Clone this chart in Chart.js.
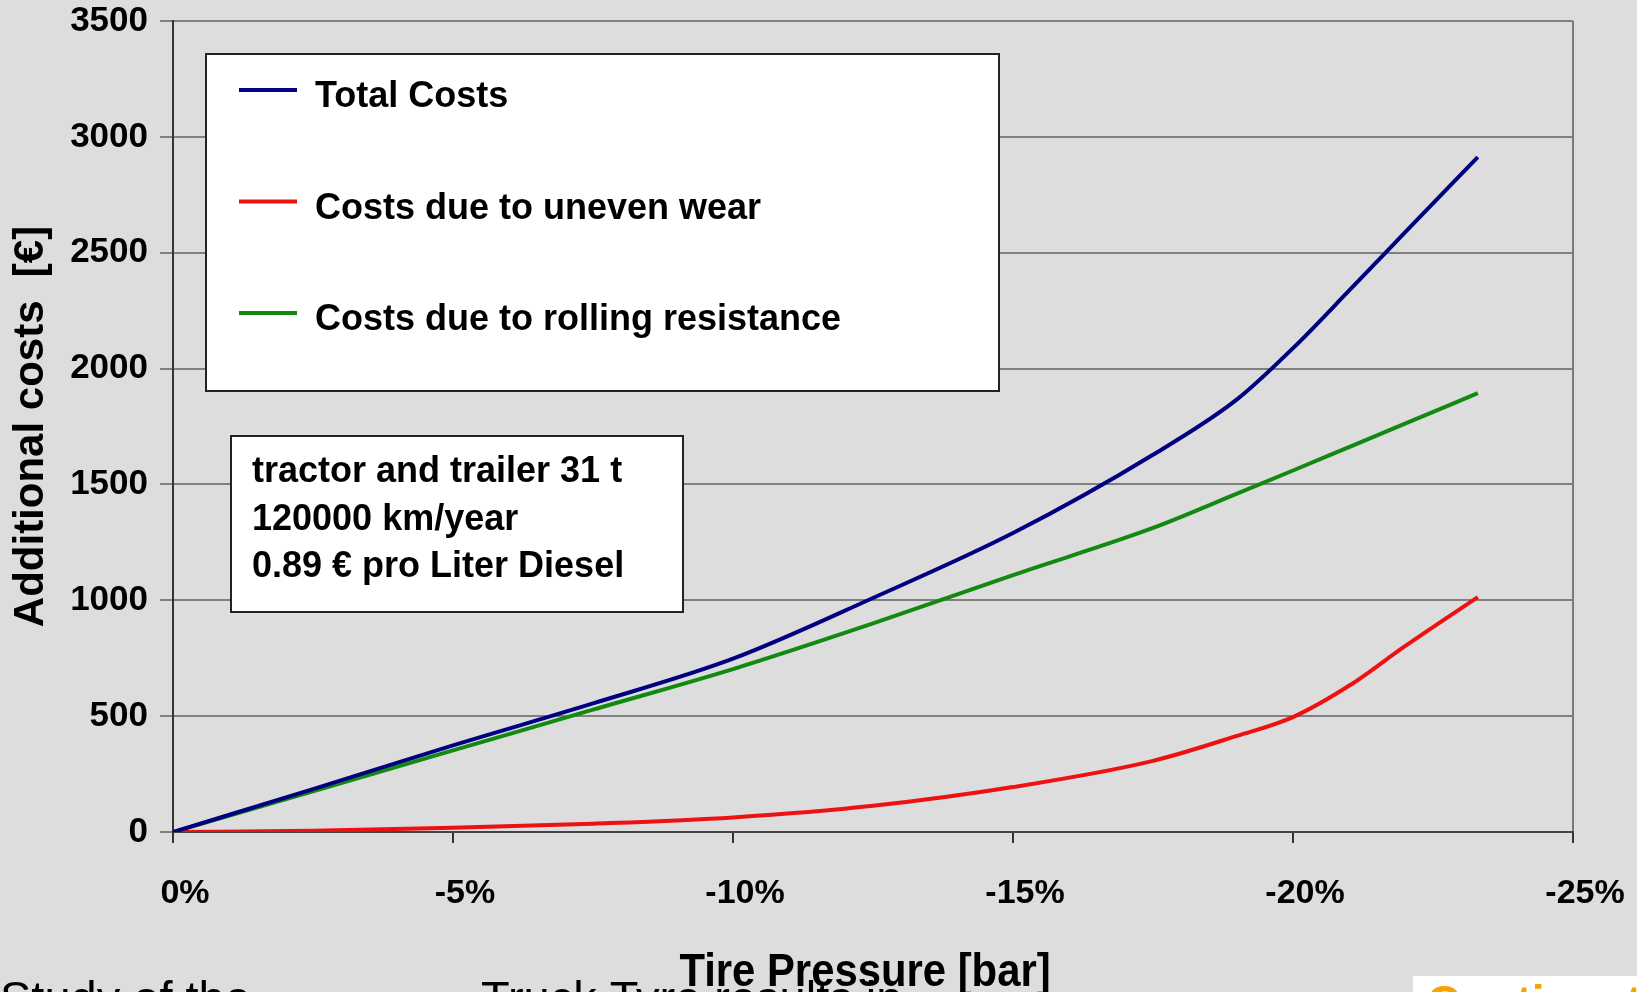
<!DOCTYPE html>
<html>
<head>
<meta charset="utf-8">
<script src="https://cdn.jsdelivr.net/npm/chart.js@4"></script>
<style>
  html, body { margin: 0; padding: 0; background: #dddddd; }
  #wrap { width: 1637px; height: 992px; position: relative; overflow: hidden; }
  canvas { display: block; }
</style>
</head>
<body>
<div id="wrap"><canvas id="costChart" width="1637" height="992"></canvas></div>
<script>
// Tire pressure deviation from nominal, in percent
const pressureDrop = [0, -2.5, -5, -7.5, -10, -12.5, -15, -17.5, -19, -20, -21, -22, -23.3];

// Additional costs per year in EUR
const totalCosts             = [0, 185, 374, 555, 748, 1010, 1290, 1628, 1867, 2088, 2336, 2588, 2913];
const unevenWearCosts        = [0, 5, 18, 36, 63, 113, 194, 307, 415, 496, 631, 802, 1014];
const rollingResistanceCosts = [0, 176, 352, 528, 703, 900, 1109, 1312, 1460, 1560, 1661, 1762, 1894];

const seriesNames = ['Total Costs', 'Costs due to uneven wear', 'Costs due to rolling resistance'];
const seriesColors = ['#000080', '#ee1111', '#128a12'];

const yAxisMax = 3500;
const yAxisStep = 500;
const xAxisMin = -25;
const xAxisStep = 5;

const xTitle = 'Tire Pressure [bar]';
const yTitle = 'Additional costs  [€]';
const infoLines = ['tractor and trailer 31 t', '120000 km/year', '0.89 € pro Liter Diesel'];
const captionParts = [['Study of the', 0], ['Truck Tyre results in', 481]];
const logoText = 'Continental';

const FONT = "'Liberation Sans', Arial, sans-serif";

const toPoints = (ys) => pressureDrop.map((x, i) => ({ x: x, y: ys[i] }));

// Page caption, logo strip, legend panel, vehicle info panel and x-axis title
const panels = {
  id: 'panels',
  beforeDraw(chart) {
    const ctx = chart.ctx;
    ctx.save();
    ctx.fillStyle = '#dddddd';
    ctx.fillRect(0, 0, chart.width, chart.height);
    // caption line running off the bottom edge
    ctx.fillStyle = '#000';
    ctx.font = "47px " + FONT;
    ctx.textBaseline = 'alphabetic';
    captionParts.forEach(([t, x]) => ctx.fillText(t, x, 1014));
    // logo strip
    ctx.fillStyle = '#ffffff';
    ctx.fillRect(1413, 976, 224, 20);
    ctx.fillStyle = '#f5a300';
    ctx.font = "bold 46px " + FONT;
    ctx.fillText(logoText, 1427, 1018);
    ctx.restore();
  },
  beforeDatasetsDraw(chart) {
    const ctx = chart.ctx;
    ctx.save();
    // legend panel
    ctx.fillStyle = '#ffffff';
    ctx.fillRect(206, 54, 793, 337);
    ctx.strokeStyle = '#222';
    ctx.lineWidth = 2;
    ctx.strokeRect(206, 54, 793, 337);
    ctx.font = "bold 36px " + FONT;
    ctx.textBaseline = 'alphabetic';
    chart.data.datasets.forEach((ds, i) => {
      const y = 90 + i * 111.5;
      ctx.strokeStyle = ds.borderColor;
      ctx.lineWidth = 4;
      ctx.beginPath();
      ctx.moveTo(239, y);
      ctx.lineTo(297, y);
      ctx.stroke();
      ctx.fillStyle = '#000';
      ctx.fillText(ds.label, 315, y + 17);
    });
    // info panel
    ctx.fillStyle = '#ffffff';
    ctx.fillRect(231, 436, 452, 176);
    ctx.strokeStyle = '#222';
    ctx.lineWidth = 2;
    ctx.strokeRect(231, 436, 452, 176);
    ctx.fillStyle = '#000';
    const baselines = [482, 530, 577];
    infoLines.forEach((t, i) => ctx.fillText(t, 252, baselines[i]));
    ctx.restore();
  },
  afterDraw(chart) {
    // condensed bold axis title under the x axis
    const ctx = chart.ctx;
    const area = chart.chartArea;
    ctx.save();
    ctx.fillStyle = '#000';
    ctx.font = "bold 47px " + FONT;
    ctx.textAlign = 'center';
    ctx.textBaseline = 'alphabetic';
    ctx.translate((area.left + area.right) / 2 - 8, 986);
    ctx.scale(0.89, 1);
    ctx.fillText(xTitle, 0, 0);
    ctx.restore();
  }
};

new Chart(document.getElementById('costChart'), {
  type: 'line',
  data: {
    datasets: [
      { label: seriesNames[0], data: toPoints(totalCosts), borderColor: seriesColors[0] },
      { label: seriesNames[1], data: toPoints(unevenWearCosts), borderColor: seriesColors[1] },
      { label: seriesNames[2], data: toPoints(rollingResistanceCosts), borderColor: seriesColors[2] }
    ]
  },
  options: {
    responsive: false,
    animation: false,
    devicePixelRatio: 1,
    layout: { padding: { top: 21, right: 64, left: 0, bottom: 0 } },
    elements: {
      line: { borderWidth: 4, cubicInterpolationMode: 'monotone', fill: false },
      point: { radius: 0, hoverRadius: 0 }
    },
    plugins: { legend: { display: false }, tooltip: { enabled: false } },
    scales: {
      x: {
        type: 'linear',
        min: xAxisMin,
        max: 0,
        reverse: true,
        afterFit: (s) => { s.height = 160; s.paddingLeft = 0; s.paddingRight = 0; },
        ticks: {
          stepSize: xAxisStep,
          callback: (v) => v + '%',
          color: '#000',
          font: { family: FONT, size: 34, weight: 'bold' },
          padding: 30,
          labelOffset: 12,
          maxRotation: 0
        },
        grid: {
          drawOnChartArea: true,
          color: (c) => (c.tick && c.tick.value === xAxisMin) ? '#7a7a7a' : 'rgba(0,0,0,0)',
          lineWidth: 2,
          tickLength: 11,
          tickColor: '#333',
          tickWidth: 2
        },
        border: { color: '#444', width: 2 },
        title: { display: false }
      },
      y: {
        min: 0,
        max: yAxisMax,
        afterFit: (s) => { s.width = 173; s.paddingTop = 0; s.paddingBottom = 0; },
        ticks: {
          stepSize: yAxisStep,
          callback: (v) => String(v),
          color: '#000',
          font: { family: FONT, size: 35, weight: 'bold' },
          padding: 12
        },
        grid: {
          color: '#808080',
          lineWidth: 2,
          tickLength: 13,
          tickColor: '#808080'
        },
        border: { color: '#333', width: 2 },
        title: {
          display: true,
          text: yTitle,
          color: '#000',
          font: { family: FONT, size: 42, weight: 'bold', lineHeight: 1 },
          padding: { top: 10, bottom: 0 }
        }
      }
    }
  },
  plugins: [panels]
});
</script>
</body>
</html>
